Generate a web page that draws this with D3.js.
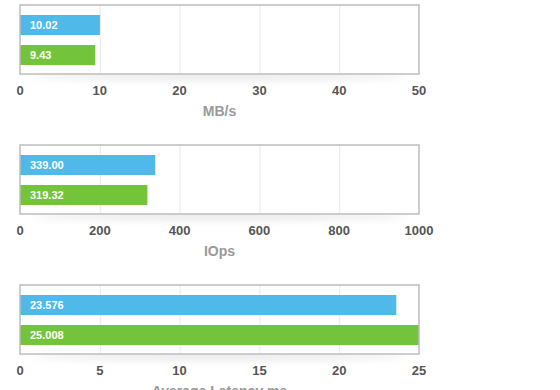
<!DOCTYPE html>
<html lang="en">
<head>
  <meta charset="UTF-8" />
  <title>Storage benchmark</title>
  <script src="https://d3js.org/d3.v7.min.js"></script>
  <style>
    html, body { margin: 0; padding: 0; background: #fff; overflow: hidden; }
    svg { display: block; font-family: 'Liberation Sans', Arial, sans-serif; }
    .frame { fill: none; stroke: #bdbdbd; stroke-width: 1.5px; }
    .grid { stroke: #e8e8e8; stroke-width: 1px; }
    .tick-label { fill: #555; font-size: 13px; font-weight: bold; }
    .axis-title { fill: #999; font-size: 14px; font-weight: bold; }
    .bar-label { fill: #fff; font-size: 11px; font-weight: bold; }
  </style>
</head>
<body>
  <svg id="chart" width="560" height="390"></svg>
  <script>
    // one panel per metric
    const metricTitles = ["MB/s", "IOps", "Average Latency ms"];
    const metricMax = [50, 1000, 25];
    const metricTicks = [
      [0, 10, 20, 30, 40, 50],
      [0, 200, 400, 600, 800, 1000],
      [0, 5, 10, 15, 20, 25]
    ];
    const seriesA = [10.02, 339.00, 23.576];   // blue
    const seriesB = [9.43, 319.32, 25.008];    // green
    const labelsA = ["10.02", "339.00", "23.576"];
    const labelsB = ["9.43", "319.32", "25.008"];
    const colors = ["#4fbaea", "#74c43b"];

    const svg = d3.select("#chart");
    const left = 20, right = 419;
    const panelTop = 5, panelStep = 140, boxH = 69;

    const defs = svg.append("defs");
    defs.append("filter").attr("id", "blur")
      .attr("x", "-20%").attr("y", "-200%").attr("width", "140%").attr("height", "500%")
      .append("feGaussianBlur").attr("stdDeviation", 4);

    metricTitles.forEach((title, i) => {
      const top = panelTop + i * panelStep;
      const x = d3.scaleLinear().domain([0, metricMax[i]]).range([left, right]);
      const y = d3.scaleBand().domain([0, 1]).range([top + 10, top + 60]).paddingInner(1 / 3);
      const g = svg.append("g");

      // soft shadow under the frame
      g.append("ellipse")
        .attr("cx", (left + right) / 2).attr("cy", top + boxH + 2)
        .attr("rx", (right - left) / 2 - 10).attr("ry", 3)
        .attr("fill", "#000").attr("opacity", 0.12)
        .attr("filter", "url(#blur)");

      g.append("rect")
        .attr("x", left).attr("y", top)
        .attr("width", right - left).attr("height", boxH)
        .attr("fill", "#fff");

      g.selectAll(".grid")
        .data(metricTicks[i].slice(1, -1))
        .join("line")
        .attr("class", "grid")
        .attr("x1", d => x(d) + 0.5).attr("x2", d => x(d) + 0.5)
        .attr("y1", top).attr("y2", top + boxH);

      const vals = [seriesA[i], seriesB[i]];
      const labs = [labelsA[i], labelsB[i]];
      g.selectAll(".bar")
        .data(vals)
        .join("rect")
        .attr("class", "bar")
        .attr("x", left)
        .attr("y", (d, k) => y(k))
        .attr("width", d => x(Math.min(d, metricMax[i])) - left)
        .attr("height", y.bandwidth())
        .attr("fill", (d, k) => colors[k]);

      g.selectAll(".bar-label")
        .data(labs)
        .join("text")
        .attr("class", "bar-label")
        .attr("x", left + 10)
        .attr("y", (d, k) => y(k) + y.bandwidth() / 2)
        .attr("dy", "0.35em")
        .text(d => d);

      g.append("rect")
        .attr("class", "frame")
        .attr("x", left).attr("y", top)
        .attr("width", right - left).attr("height", boxH);

      g.selectAll(".tick-label")
        .data(metricTicks[i])
        .join("text")
        .attr("class", "tick-label")
        .attr("x", d => x(d))
        .attr("y", top + boxH + 16)
        .attr("dy", "0.35em")
        .attr("text-anchor", "middle")
        .text(d => d);

      g.append("text")
        .attr("class", "axis-title")
        .attr("x", (left + right) / 2)
        .attr("y", top + boxH + 37)
        .attr("dy", "0.35em")
        .attr("text-anchor", "middle")
        .text(title);
    });
  </script>
</body>
</html>
